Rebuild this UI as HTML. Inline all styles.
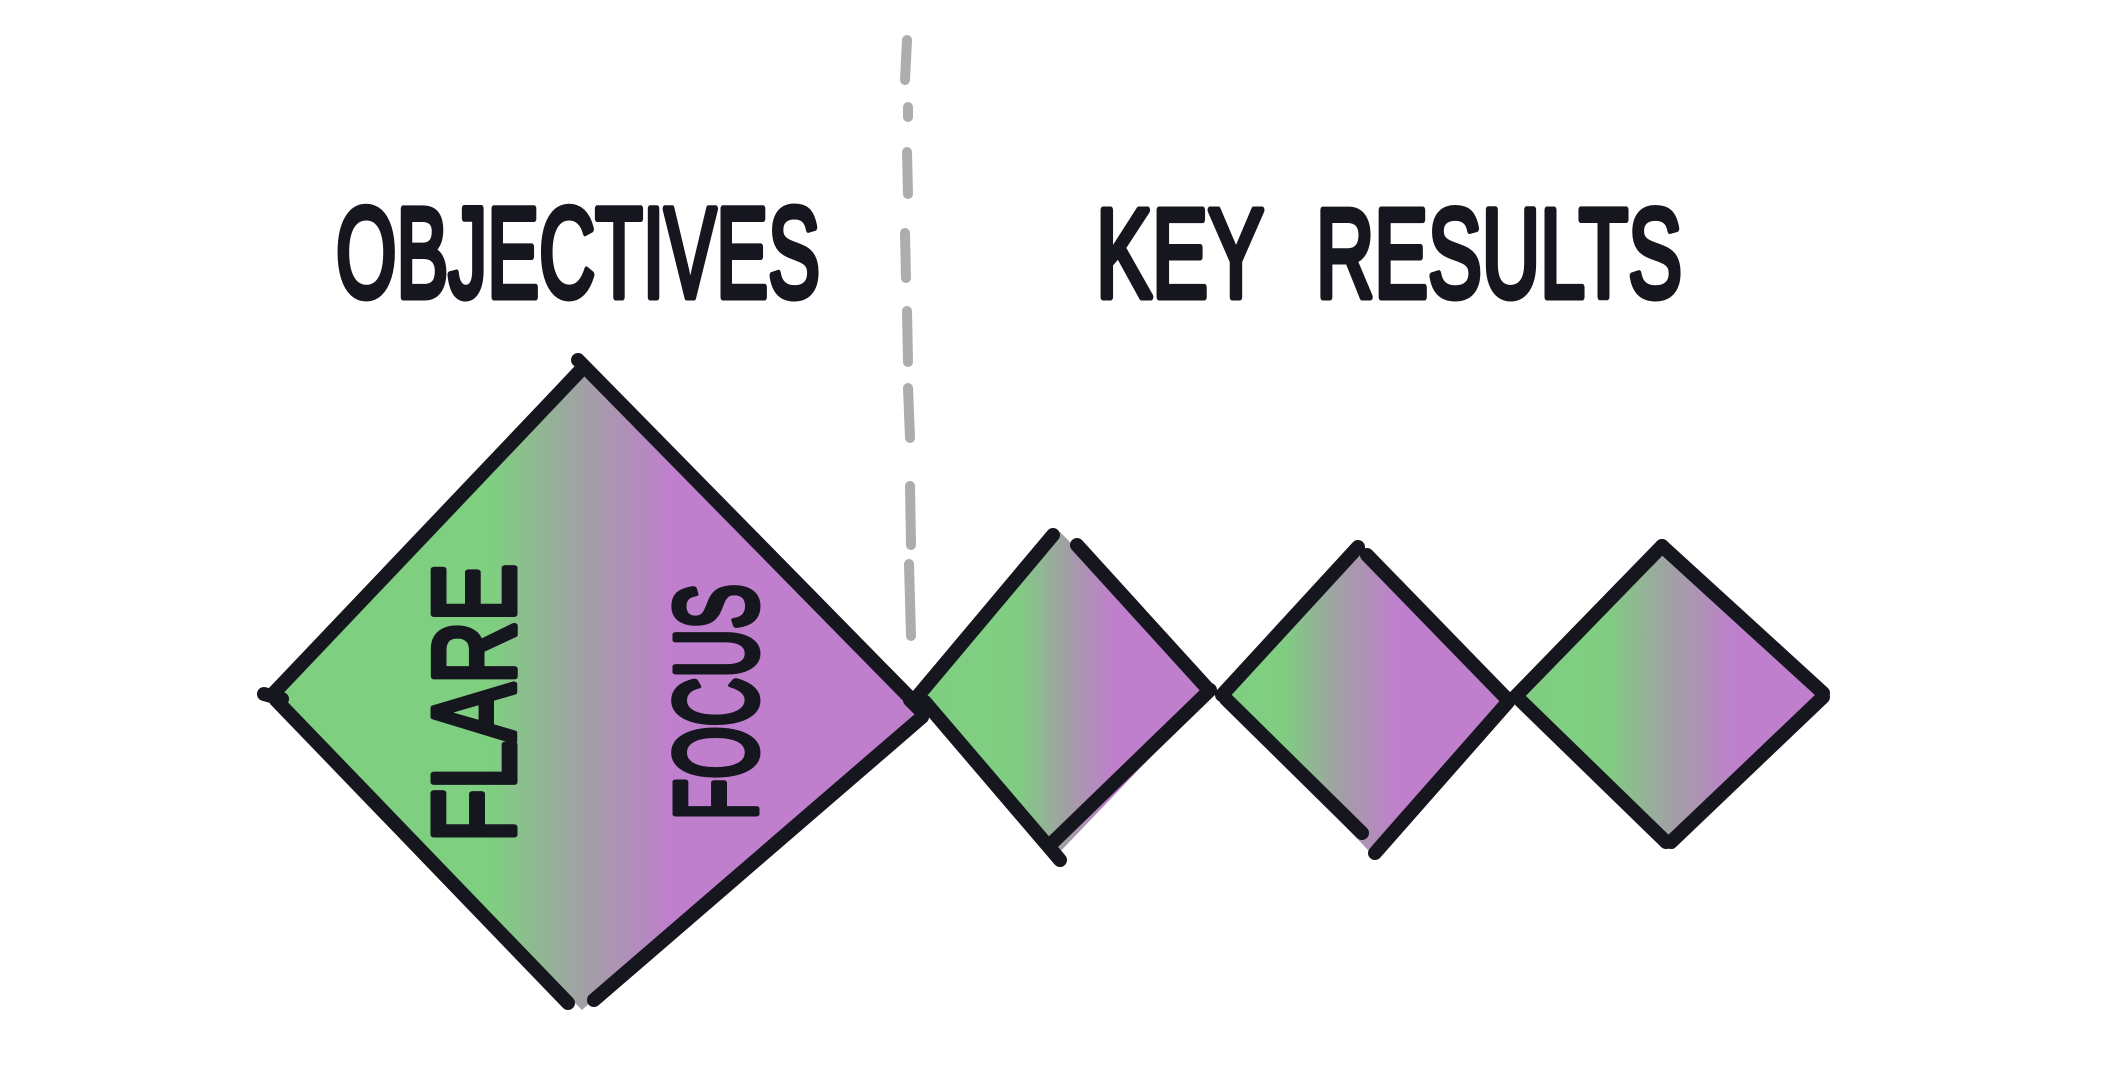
<!DOCTYPE html>
<html>
<head>
<meta charset="utf-8">
<style>
  html,body{margin:0;padding:0;background:#ffffff;}
  body{width:2122px;height:1070px;overflow:hidden;}
  svg{display:block;}
  .t{font-family:"Liberation Sans","DejaVu Sans",sans-serif;font-weight:normal;fill:#16161f;stroke:#16161f;stroke-width:7;stroke-linejoin:round;stroke-linecap:round;}
</style>
</head>
<body>
<svg width="2122" height="1070" viewBox="0 0 2122 1070" xmlns="http://www.w3.org/2000/svg">
  <defs>
    <linearGradient id="gBig" gradientUnits="userSpaceOnUse" x1="270" y1="0" x2="920" y2="0">
      <stop offset="0" stop-color="#7fcf80"/>
      <stop offset="0.34" stop-color="#7fcf80"/>
      <stop offset="0.49" stop-color="#a39ea6"/>
      <stop offset="0.62" stop-color="#bf7fcd"/>
      <stop offset="1" stop-color="#bf7fcd"/>
    </linearGradient>
    <linearGradient id="g1" gradientUnits="userSpaceOnUse" x1="917" y1="0" x2="1213" y2="0">
      <stop offset="0" stop-color="#7fcf80"/>
      <stop offset="0.34" stop-color="#80cd82"/>
      <stop offset="0.51" stop-color="#a39ea6"/>
      <stop offset="0.66" stop-color="#bf7fcd"/>
      <stop offset="1" stop-color="#bf7fcd"/>
    </linearGradient>
    <linearGradient id="g2" gradientUnits="userSpaceOnUse" x1="1222" y1="0" x2="1508" y2="0">
      <stop offset="0" stop-color="#7fcf80"/>
      <stop offset="0.22" stop-color="#80cd82"/>
      <stop offset="0.42" stop-color="#a39ea6"/>
      <stop offset="0.62" stop-color="#bf7fcd"/>
      <stop offset="1" stop-color="#bf7fcd"/>
    </linearGradient>
    <linearGradient id="g3" gradientUnits="userSpaceOnUse" x1="1515" y1="0" x2="1823" y2="0">
      <stop offset="0" stop-color="#7fcf80"/>
      <stop offset="0.3" stop-color="#80cd82"/>
      <stop offset="0.52" stop-color="#a39ea6"/>
      <stop offset="0.72" stop-color="#bf7fcd"/>
      <stop offset="1" stop-color="#bf7fcd"/>
    </linearGradient>
  </defs>

  <!-- dashed divider -->
  <g stroke="#adadad" stroke-width="10" stroke-linecap="round" fill="none">
    <line x1="907" y1="40" x2="905" y2="80"/>
    <line x1="908" y1="107" x2="908" y2="117"/>
    <line x1="907" y1="152" x2="908" y2="194"/>
    <line x1="905" y1="233" x2="906" y2="278"/>
    <line x1="907" y1="311" x2="908" y2="362"/>
    <line x1="908" y1="388" x2="910" y2="438"/>
    <line x1="910" y1="486" x2="911" y2="545"/>
    <line x1="909" y1="564" x2="911" y2="636"/>
  </g>

  <!-- fills -->
  <polygon points="268,698 580,360 926,704 582,1010" fill="url(#gBig)"/>
  <polygon points="915,697 1060,532 1216,689 1056,856" fill="url(#g1)"/>
  <polygon points="1220,696 1362,545 1512,701 1368,850" fill="url(#g2)"/>
  <polygon points="1513,697 1663,542 1828,695 1668,848" fill="url(#g3)"/>

  <!-- outlines -->
  <g stroke="#16161f" stroke-width="14" stroke-linecap="round" fill="none">
    <!-- big diamond -->
    <line x1="272" y1="695" x2="579" y2="372"/>
    <line x1="578" y1="360" x2="915" y2="703"/>
    <line x1="276" y1="700" x2="568" y2="1003"/>
    <line x1="922" y1="717" x2="594" y2="1000"/>
    <line x1="264" y1="694" x2="282" y2="699"/>
    <line x1="910" y1="700" x2="922" y2="712"/>
    <!-- small 1 -->
    <line x1="917" y1="697" x2="1053" y2="535"/>
    <line x1="1077" y1="545" x2="1207" y2="688"/>
    <line x1="1210" y1="690" x2="1050" y2="845"/>
    <line x1="925" y1="702" x2="1060" y2="860"/>
    <!-- small 2 -->
    <line x1="1222" y1="695" x2="1358" y2="547"/>
    <line x1="1367" y1="555" x2="1508" y2="700"/>
    <line x1="1508" y1="702" x2="1375" y2="853"/>
    <line x1="1226" y1="699" x2="1362" y2="833"/>
    <!-- small 3 -->
    <line x1="1515" y1="697" x2="1662" y2="546"/>
    <line x1="1662" y1="546" x2="1823" y2="693"/>
    <line x1="1823" y1="697" x2="1671" y2="842"/>
    <line x1="1518" y1="698" x2="1666" y2="842"/>
  </g>

  <!-- titles -->
  <text class="t" x="336" y="297" font-size="128" textLength="484" lengthAdjust="spacingAndGlyphs">OBJECTIVES</text>
  <text class="t" x="1096" y="297" font-size="126" textLength="168" lengthAdjust="spacingAndGlyphs">KEY</text>
  <text class="t" x="1316" y="297" font-size="126" textLength="366" lengthAdjust="spacingAndGlyphs">RESULTS</text>

  <!-- rotated labels -->
  <text class="t" transform="translate(514,842) rotate(-90)" x="0" y="0" font-size="116" textLength="278" lengthAdjust="spacingAndGlyphs">FLARE</text>
  <text class="t" transform="translate(756,820) rotate(-90)" x="0" y="0" font-size="116" textLength="236" lengthAdjust="spacingAndGlyphs">FOCUS</text>
</svg>
</body>
</html>
